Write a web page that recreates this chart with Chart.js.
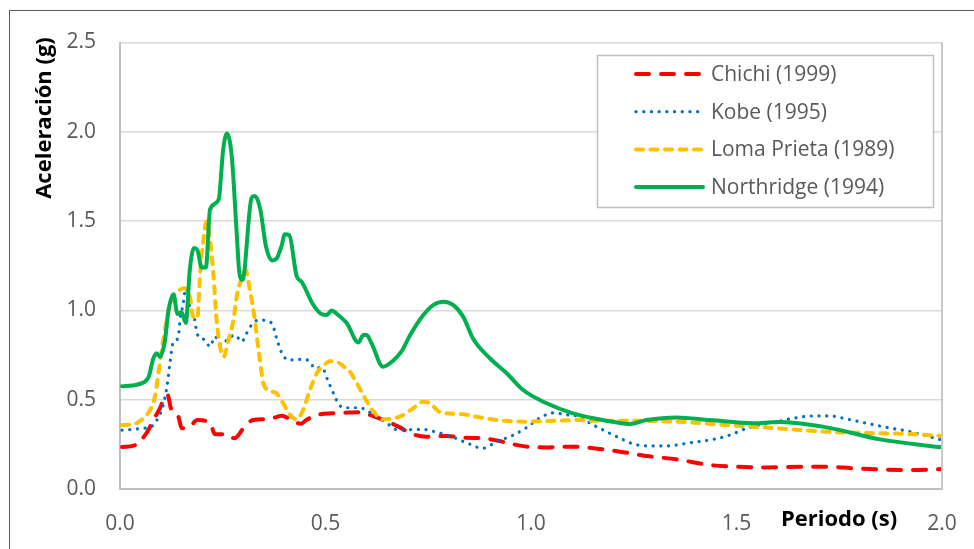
<!DOCTYPE html>
<html>
<head>
<meta charset="utf-8">
<script src="https://cdn.jsdelivr.net/npm/chart.js@4/dist/chart.umd.min.js"></script>
<style>
html,body{margin:0;padding:0;background:#fff;overflow:hidden;}
#wrap{position:relative;width:974px;height:549px;}
</style>
</head>
<body>
<div id="wrap"><canvas id="c" width="974" height="549"></canvas></div>
<script>
// ---- data ----
const seriesNames = ['Chichi (1999)', 'Kobe (1995)', 'Loma Prieta (1989)', 'Northridge (1994)'];
const xTicks = [0.0, 0.5, 1.0, 1.5, 2.0];
const yTicks = [0.0, 0.5, 1.0, 1.5, 2.0, 2.5];

const chichiX = [0.005,0.036,0.065,0.081,0.097,0.109,0.116,0.124,0.142,0.15,0.17,0.188,0.219,0.231,0.26,0.278,0.306,0.324,0.365,0.393,0.424,0.44,0.454,0.487,0.515,0.556,0.58,0.622,0.651,0.681,0.706,0.746,0.795,0.84,0.884,0.917,0.957,1.0,1.04,1.079,1.119,1.152,1.217,1.281,1.354,1.436,1.501,1.573,1.655,1.719,1.784,1.841,1.922,2.0];
const chichiY = [0.235,0.245,0.315,0.386,0.452,0.517,0.526,0.45,0.405,0.34,0.349,0.386,0.37,0.307,0.307,0.284,0.358,0.386,0.393,0.41,0.377,0.365,0.388,0.418,0.424,0.428,0.43,0.403,0.377,0.345,0.312,0.293,0.297,0.287,0.284,0.272,0.25,0.235,0.233,0.237,0.237,0.228,0.209,0.185,0.166,0.134,0.125,0.121,0.125,0.125,0.116,0.11,0.106,0.112];

const kobeX = [0.005,0.03,0.055,0.077,0.093,0.104,0.114,0.122,0.128,0.142,0.146,0.154,0.16,0.17,0.182,0.187,0.207,0.219,0.231,0.247,0.26,0.28,0.296,0.308,0.32,0.337,0.369,0.381,0.393,0.41,0.446,0.462,0.474,0.491,0.507,0.523,0.531,0.543,0.578,0.596,0.62,0.645,0.677,0.734,0.775,0.807,0.847,0.882,0.917,0.955,0.99,1.018,1.054,1.091,1.119,1.144,1.176,1.217,1.249,1.29,1.33,1.387,1.444,1.484,1.525,1.557,1.598,1.638,1.687,1.727,1.768,1.825,1.865,1.922,1.963,2.0];
const kobeY = [0.33,0.333,0.34,0.35,0.40,0.46,0.57,0.713,0.81,0.853,0.946,1.04,1.124,1.02,0.946,0.872,0.834,0.797,0.853,0.806,0.834,0.862,0.825,0.872,0.918,0.946,0.93,0.844,0.765,0.722,0.726,0.713,0.676,0.68,0.6,0.517,0.48,0.455,0.455,0.446,0.41,0.377,0.33,0.334,0.315,0.293,0.255,0.228,0.265,0.30,0.345,0.393,0.426,0.414,0.405,0.368,0.33,0.284,0.252,0.241,0.241,0.259,0.278,0.302,0.34,0.358,0.377,0.396,0.409,0.409,0.392,0.364,0.345,0.321,0.297,0.274];

const lomaX = [0.005,0.036,0.057,0.073,0.085,0.093,0.1,0.108,0.118,0.128,0.14,0.156,0.17,0.178,0.188,0.195,0.203,0.21,0.219,0.227,0.235,0.245,0.252,0.264,0.276,0.284,0.296,0.306,0.316,0.326,0.337,0.349,0.361,0.381,0.397,0.412,0.43,0.446,0.462,0.479,0.495,0.512,0.527,0.545,0.56,0.572,0.592,0.614,0.641,0.681,0.712,0.738,0.754,0.779,0.827,0.876,0.933,0.99,1.058,1.119,1.152,1.233,1.354,1.476,1.598,1.719,1.841,1.922,2.0];
const lomaY = [0.358,0.365,0.396,0.442,0.517,0.64,0.76,0.87,1.0,1.07,1.105,1.124,1.077,0.965,0.956,1.21,1.394,1.497,1.394,1.208,0.946,0.78,0.74,0.834,0.946,1.077,1.18,1.225,1.114,0.98,0.78,0.592,0.554,0.535,0.48,0.42,0.39,0.445,0.554,0.648,0.69,0.716,0.712,0.685,0.655,0.61,0.525,0.442,0.39,0.405,0.45,0.489,0.48,0.43,0.42,0.401,0.382,0.377,0.382,0.386,0.382,0.382,0.377,0.358,0.34,0.321,0.312,0.308,0.297];

const northX = [0.005,0.03,0.05,0.07,0.081,0.089,0.097,0.109,0.118,0.13,0.14,0.15,0.16,0.17,0.18,0.188,0.199,0.209,0.219,0.24,0.251,0.26,0.272,0.284,0.29,0.298,0.32,0.328,0.341,0.355,0.37,0.381,0.393,0.401,0.412,0.43,0.442,0.468,0.487,0.503,0.515,0.531,0.552,0.58,0.592,0.6,0.612,0.64,0.665,0.685,0.706,0.738,0.762,0.787,0.811,0.835,0.86,0.9,0.941,0.981,1.038,1.1,1.152,1.21,1.241,1.281,1.354,1.436,1.541,1.6,1.719,1.849,2.0];
const northY = [0.575,0.58,0.59,0.63,0.73,0.76,0.74,0.825,1.0,1.09,0.98,0.99,0.93,1.23,1.35,1.34,1.24,1.24,1.565,1.62,1.90,1.99,1.86,1.43,1.22,1.17,1.628,1.64,1.57,1.36,1.28,1.29,1.36,1.426,1.42,1.19,1.16,1.04,0.984,0.974,1.0,0.974,0.928,0.82,0.862,0.862,0.816,0.685,0.72,0.77,0.862,0.974,1.03,1.049,1.03,0.965,0.838,0.732,0.648,0.554,0.48,0.425,0.396,0.372,0.364,0.386,0.401,0.386,0.368,0.375,0.345,0.278,0.233];

// ---- build ----
function pts(xs, ys){ return xs.map((x,i)=>({x:x, y:ys[i]})); }

const FONT = "'Open Sans', 'Liberation Sans', sans-serif";
const TXT = '#595959';

const datasets = [
  {label: seriesNames[0], data: pts(chichiX, chichiY), borderColor:'#FF0000', borderWidth:4, borderDash:[13,12], borderCapStyle:'round', order:3},
  {label: seriesNames[1], data: pts(kobeX, kobeY), borderColor:'#0070C0', borderWidth:3.2, borderDash:[0.1,7.6], borderCapStyle:'round', order:2},
  {label: seriesNames[2], data: pts(lomaX, lomaY), borderColor:'#FFC000', borderWidth:4, borderDash:[7,7.5], borderCapStyle:'round', order:1},
  {label: seriesNames[3], data: pts(northX, northY), borderColor:'#00B050', borderWidth:4, borderCapStyle:'round', order:0}
].map(d=>Object.assign(d,{fill:false, pointRadius:0, pointHoverRadius:0, cubicInterpolationMode:'monotone', borderJoinStyle:'round'}));

const decor = {
  id:'decor',
  afterDraw(chart){
    const ctx = chart.ctx, a = chart.chartArea;
    ctx.save();
    // outer frame
    ctx.strokeStyle = '#595959'; ctx.lineWidth = 1;
    ctx.strokeRect(9.5, 10.5, 2000, 2000);
    // plot right border
    ctx.strokeStyle = '#C8C8C8'; ctx.lineWidth = 2;
    ctx.beginPath(); ctx.moveTo(a.right, a.top); ctx.lineTo(a.right, a.bottom); ctx.stroke();
    // axis titles
    ctx.fillStyle = '#000';
    ctx.font = "bold 22px " + FONT;
    ctx.textAlign = 'center'; ctx.textBaseline = 'middle';
    ctx.fillText('Periodo (s)', 839, 520);
    ctx.save();
    ctx.translate(45, 118); ctx.rotate(-Math.PI/2);
    ctx.fillText('Aceleración (g)', 0, 0);
    ctx.restore();
    // legend
    const lx = 597, ly = 55, lw = 336, lh = 152;
    ctx.fillStyle = '#fff'; ctx.fillRect(lx, ly, lw, lh);
    ctx.strokeStyle = '#BFBFBF'; ctx.lineWidth = 1.5;
    ctx.strokeRect(lx + 0.5, ly + 0.5, lw, lh);
    ctx.font = "21px " + FONT; ctx.textAlign = 'left';
    chart.data.datasets.forEach((ds, i) => {
      const y = 74 + i * 37.7;
      ctx.beginPath();
      ctx.setLineDash(ds.borderDash || []);
      ctx.lineCap = ds.borderCapStyle || 'butt';
      ctx.lineWidth = ds.borderWidth;
      ctx.strokeStyle = ds.borderColor;
      ctx.moveTo(636, y); ctx.lineTo(703, y); ctx.stroke();
      ctx.setLineDash([]);
      ctx.fillStyle = TXT;
      ctx.fillText(ds.label, 711, y + 1);
    });
    ctx.restore();
  }
};

new Chart(document.getElementById('c'), {
  type: 'line',
  data: {datasets},
  options: {
    responsive: false,
    animation: false,
    layout: {padding: {left: 0, right: 32, top: 42.5, bottom: 0}},
    plugins: {legend: {display:false}, tooltip: {enabled:false}},
    scales: {
      x: {
        type: 'linear', min: 0, max: 2,
        afterFit: s => { s.height = 60; },
        afterBuildTicks: s => { s.ticks = xTicks.map(v=>({value:v})); },
        grid: {display:false},
        border: {display:true, color:'#BFBFBF', width:2},
        ticks: {color: TXT, font:{family:FONT, size:21}, padding: 14, maxRotation:0, callback: v => v.toFixed(1)}
      },
      y: {
        type: 'linear', min: 0, max: 2.5,
        afterFit: s => { s.width = 120; },
        afterBuildTicks: s => { s.ticks = yTicks.map(v=>({value:v})); },
        grid: {color:'#D9D9D9', lineWidth:1.5, drawTicks:false},
        border: {display:true, color:'#BFBFBF', width:2},
        ticks: {color: TXT, font:{family:FONT, size:21}, padding: 24, callback: v => v.toFixed(1)}
      }
    }
  },
  plugins: [decor]
});
</script>
</body>
</html>
